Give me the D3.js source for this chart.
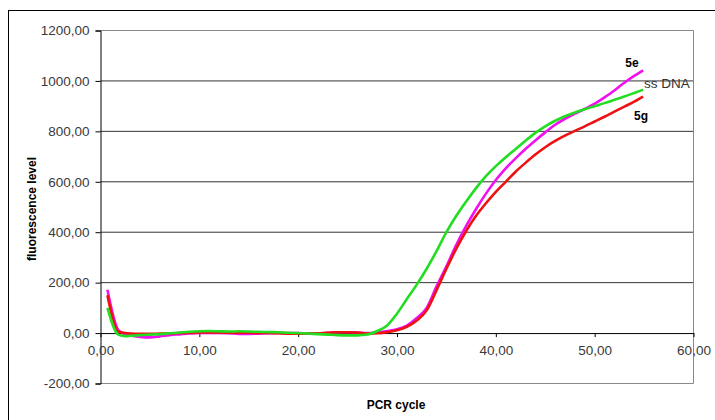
<!DOCTYPE html>
<html>
<head>
<meta charset="utf-8">
<script src="https://cdn.jsdelivr.net/npm/d3@7"></script>
<style>
  body { margin: 0; background: #fff; }
  svg { display: block; }
</style>
</head>
<body>
<svg id="chart" width="715" height="420"></svg>
<script>
// PCR cycle values
const cycles = [0.7, 1.8, 2.5, 3, 4, 5, 6, 7, 8, 9, 10, 11, 12, 13, 14, 15, 16, 17, 18, 19, 20,
  21, 22, 23, 24, 25, 26, 27, 28, 29, 30, 31, 32, 33, 34, 35, 36, 37, 38, 39, 40,
  41, 42, 43, 44, 45, 46, 47, 48, 49, 50, 51, 52, 53, 54, 54.9];

// fluorescence per series
const fluor5e = [172, 12, -6, -10, -15, -17, -13, -8, -5, -2, 0, 0, 0, -1, -3, -3, -2, -1, 0, 0, 0,
  -1, -1, 1, 3, 3, 2, 0, 3, 8, 15, 30, 60, 100, 185, 265, 350, 425, 492, 553, 607,
  653, 693, 730, 764, 796, 826, 850, 870, 889, 910, 935, 962, 993, 1020, 1042];
const fluor5g = [150, 6, 0, -2, -3, -3, -2, -1, 0, 1, 2, 2, 2, 1, 1, 1, 0, 0, -1, -2, -2,
  -2, -1, 1, 3, 3, 2, -2, -1, 3, 11, 25, 50, 90, 170, 255, 335, 405, 465, 515, 560,
  600, 640, 675, 708, 737, 762, 783, 802, 820, 839, 858, 878, 898, 918, 938];
const fluorSsDna = [100, -6, -12, -11, -8, -6, -4, -1, 2, 5, 7, 8, 7, 6, 7, 6, 5, 4, 3, 1, 0,
  -2, -4, -6, -8, -9, -9, -6, 8, 30, 77, 135, 192, 255, 325, 400, 465, 522, 575, 622, 662,
  697, 730, 763, 794, 820, 842, 860, 875, 888, 900, 912, 925, 938, 952, 965];

const yTicks = [-200, 0, 200, 400, 600, 800, 1000, 1200];
const xTicks = [0, 10, 20, 30, 40, 50, 60];

const series = [
  { name: "5e", values: fluor5e, color: "#f010f0" },
  { name: "5g", values: fluor5g, color: "#ee1111" },
  { name: "ss DNA", values: fluorSsDna, color: "#22dd22" }
];

const fmt = v => d3.format(".2f")(v).replace(".", ",").replace("−", "-");

const svg = d3.select("#chart");
const x = d3.scaleLinear().domain([0, 60]).range([100.5, 693.5]);
const y = d3.scaleLinear().domain([-200, 1200]).range([383.5, 30.5]);

// outer frame
svg.append("rect")
  .attr("x", 8.5).attr("y", 10.5)
  .attr("width", 760).attr("height", 460)
  .attr("fill", "none").attr("stroke", "#000");

// grid lines
svg.append("g")
  .selectAll("line")
  .data(yTicks.filter(d => d > 0 && d < 1200))
  .join("line")
  .attr("x1", x(0)).attr("x2", x(60))
  .attr("y1", d => y(d)).attr("y2", d => y(d))
  .attr("stroke", "#333");

// plot area border (top, right, bottom)
svg.append("path")
  .attr("d", `M${x(0)},${y(1200)}H${x(60)}V${y(-200)}H${x(0)}`)
  .attr("fill", "none")
  .attr("stroke", "#888");

// y axis
const yAxis = svg.append("g")
  .attr("transform", `translate(${x(0)},0)`)
  .call(d3.axisLeft(y).tickValues(yTicks).tickSize(5).tickPadding(6).tickFormat(fmt));
yAxis.select(".domain").attr("stroke", "#000");

// x axis at zero
const xAxis = svg.append("g")
  .attr("transform", `translate(0,${y(0)})`)
  .call(d3.axisBottom(x).tickValues(xTicks).tickSize(4).tickPadding(8).tickSizeOuter(0).tickFormat(fmt));
xAxis.select(".domain").attr("stroke", "#000");

svg.selectAll(".tick text")
  .style("font-family", "Liberation Sans, Arial, sans-serif")
  .style("font-size", "13.5px")
  .attr("fill", "#3a3a3a");
svg.selectAll(".tick line").attr("stroke", "#000");

// curves
const line = d3.line()
  .x((d, i) => x(cycles[i]))
  .y(d => y(d))
  .curve(d3.curveMonotoneX);

svg.append("g")
  .selectAll("path")
  .data(series)
  .join("path")
  .attr("d", d => line(d.values))
  .attr("fill", "none")
  .attr("stroke", d => d.color)
  .attr("stroke-width", 2.6)
  .attr("stroke-linejoin", "round");

// axis titles
svg.append("text")
  .attr("transform", "translate(36,209) rotate(-90)")
  .attr("text-anchor", "middle")
  .style("font-family", "Liberation Sans, Arial, sans-serif")
  .style("font-size", "12px")
  .style("font-weight", "bold")
  .text("fluorescence level");

svg.append("text")
  .attr("x", 396).attr("y", 409)
  .attr("text-anchor", "middle")
  .style("font-family", "Liberation Sans, Arial, sans-serif")
  .style("font-size", "12px")
  .style("font-weight", "bold")
  .text("PCR cycle");

// series labels
const labels = svg.append("g")
  .style("font-family", "Liberation Sans, Arial, sans-serif");
labels.append("text").attr("x", 632).attr("y", 67).attr("text-anchor", "middle")
  .style("font-size", "12px").style("font-weight", "bold").text("5e");
labels.append("text").attr("x", 641).attr("y", 120).attr("text-anchor", "middle")
  .style("font-size", "12px").style("font-weight", "bold").text("5g");
labels.append("text").attr("x", 644).attr("y", 88)
  .style("font-size", "13.5px").attr("fill", "#333").text("ss DNA");
</script>
</body>
</html>
